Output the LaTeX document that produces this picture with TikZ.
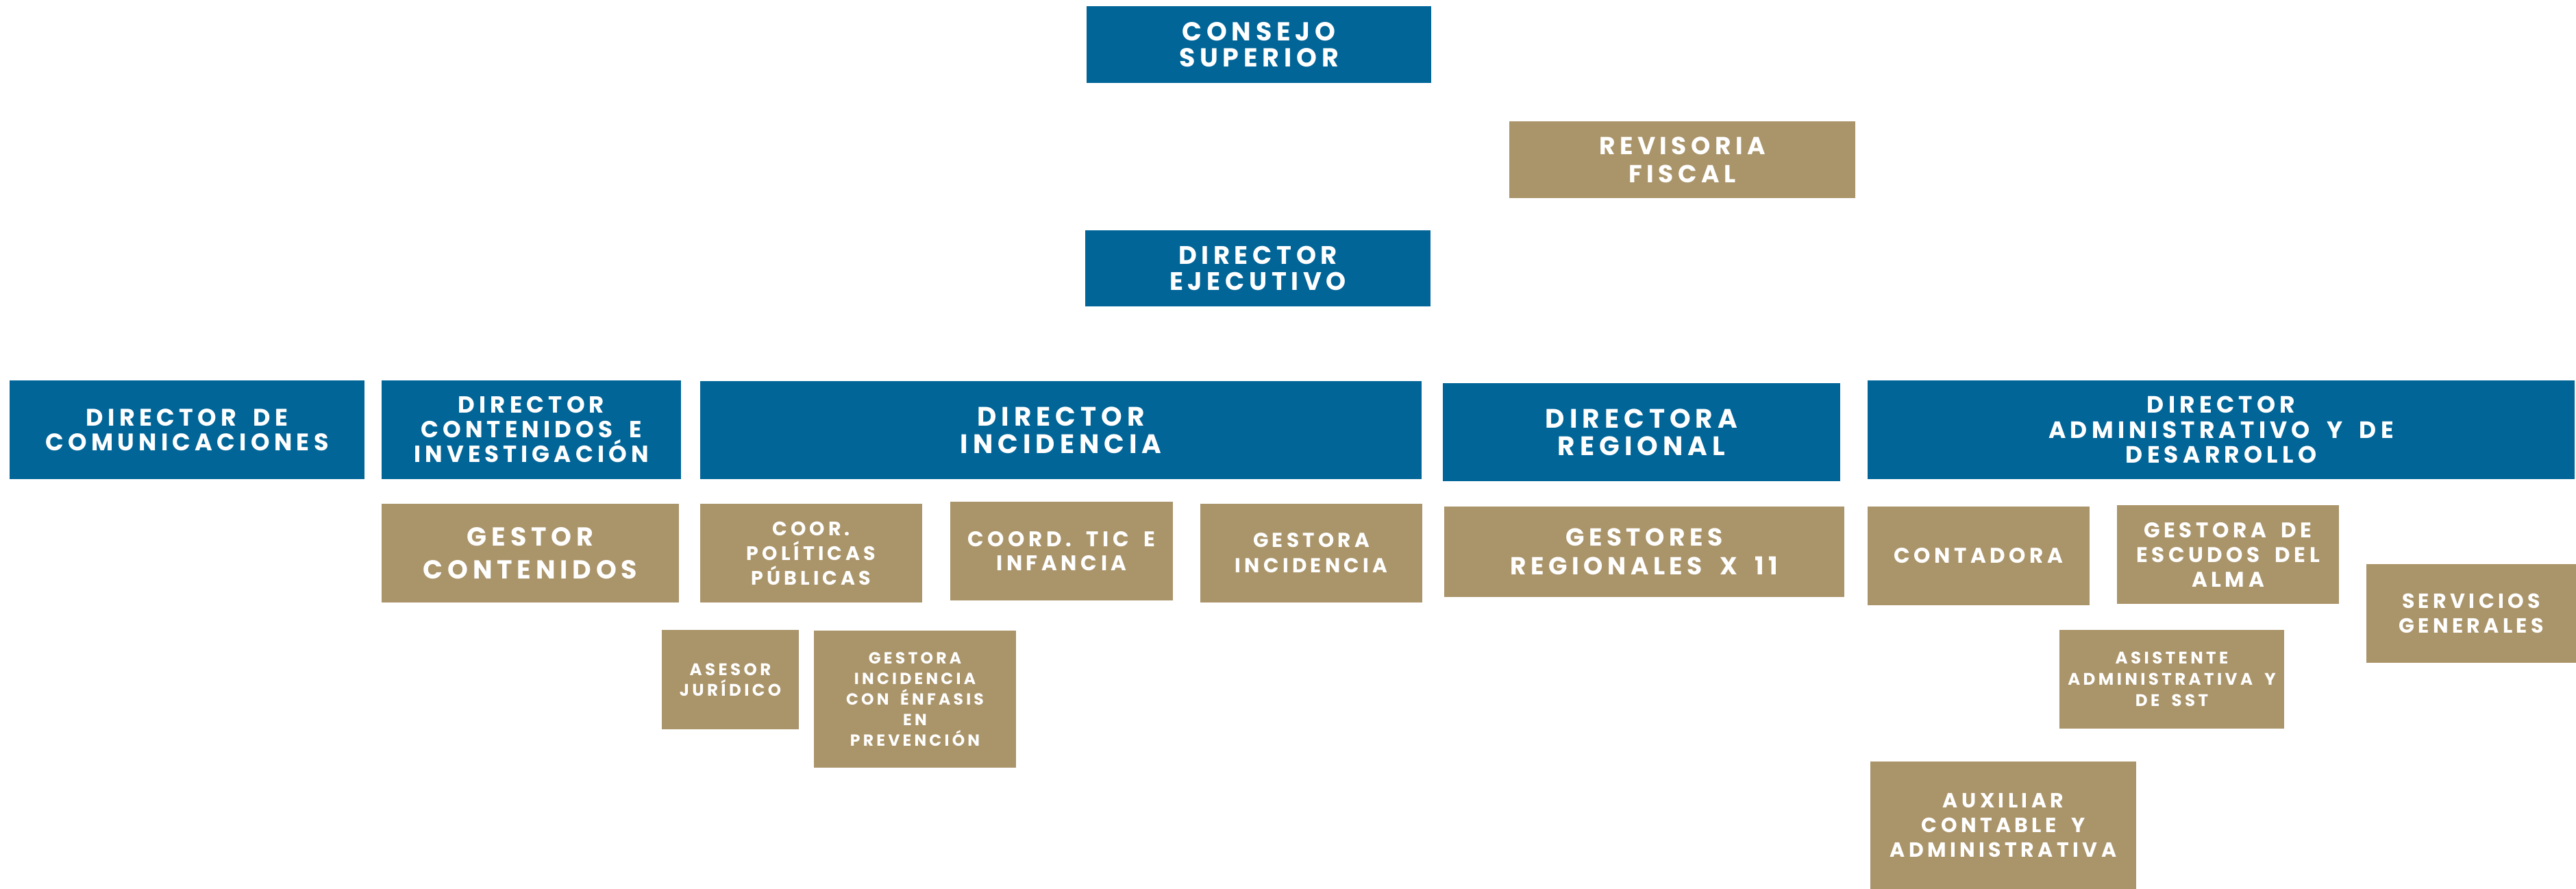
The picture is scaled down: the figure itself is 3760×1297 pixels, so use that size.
\documentclass[tikz,border=0pt]{standalone}
\usepackage{fontspec}
\setmainfont[LetterSpace=18,WordSpace=1.8]{Poppins}
\definecolor{orgblue}{RGB}{1,101,152}
\definecolor{orggold}{RGB}{170,148,106}
\newcommand{\fsz}[2]{\fontsize{#1}{#2}\selectfont\bfseries}
\tikzset{
  box/.style={inner sep=0pt, outer sep=0pt, align=center, text=white, anchor=center},
  bluebox/.style={box, fill=orgblue},
  goldbox/.style={box, fill=orggold},
}
\begin{document}
\begin{tikzpicture}[x=1pt,y=-1pt]
\useasboundingbox (0,0) rectangle (3760,1297);
\node[bluebox, minimum width=503pt, minimum height=112pt, font=\fsz{38}{38}] (consejo) at (1837.5,65) {CONSEJO\\SUPERIOR};
\node[goldbox, minimum width=505pt, minimum height=112pt, font=\fsz{36}{41}] (revisoria) at (2455.5,233) {REVISORIA\\FISCAL};
\node[bluebox, minimum width=504pt, minimum height=111pt, font=\fsz{37}{38}] (ejecutivo) at (1836,391.5) {DIRECTOR\\EJECUTIVO};
\node[bluebox, minimum width=518pt, minimum height=144pt, font=\fsz{35}{36}] (comunic) at (273,627) {DIRECTOR DE\\COMUNICACIONES};
\node[bluebox, minimum width=437pt, minimum height=144pt, font=\fsz{34}{36}] (dircont) at (775.5,627) {DIRECTOR\\CONTENIDOS E\\INVESTIGACIÓN};
\node[goldbox, minimum width=434pt, minimum height=144pt, font=\fsz{38}{48}] (gestcont) at (774,807) {GESTOR\\CONTENIDOS};
\node[bluebox, minimum width=1053pt, minimum height=143pt, font=\fsz{39}{40}] (dirinc) at (1548.5,627.5) {DIRECTOR\\INCIDENCIA};
\node[goldbox, minimum width=324pt, minimum height=144pt, font=\fsz{28.5}{36}] (coorpol) at (1184,807) {COOR.\\POLÍTICAS\\PÚBLICAS};
\node[goldbox, minimum width=325pt, minimum height=144pt, font=\fsz{31}{35.5}] (tic) at (1549.5,804) {COORD. TIC E\\INFANCIA};
\node[goldbox, minimum width=324pt, minimum height=144pt, font=\fsz{29.5}{37}] (gestinc) at (1914,807) {GESTORA\\INCIDENCIA};
\node[goldbox, minimum width=200pt, minimum height=145pt, font=\fsz{24.5}{30}] (asesor) at (1066,991.5) {ASESOR\\JURÍDICO};
\node[goldbox, minimum width=295pt, minimum height=200pt, font=\fsz{23.5}{30}] (enfasis) at (1335.5,1020) {GESTORA\\INCIDENCIA\\CON ÉNFASIS\\EN\\PREVENCIÓN};
\node[bluebox, minimum width=580pt, minimum height=143pt, font=\fsz{39}{40}] (dirreg) at (2396,630.5) {DIRECTORA\\REGIONAL};
\node[bluebox, minimum width=1032pt, minimum height=144pt, font=\fsz{34.5}{36.5}] (diradm) at (3242,627) {DIRECTOR\\ADMINISTRATIVO Y DE\\DESARROLLO};
\node[goldbox, minimum width=584pt, minimum height=132pt, font=\fsz{36}{42}] (gestreg) at (2400,805) {GESTORES\\REGIONALES X 11};
\node[goldbox, minimum width=324pt, minimum height=144pt, font=\fsz{31}{36}] (contadora) at (2888,811) {CONTADORA};
\node[goldbox, minimum width=324pt, minimum height=144pt, font=\fsz{31}{36}] (escudos) at (3252,809) {GESTORA DE\\ESCUDOS DEL\\ALMA};
\node[goldbox, minimum width=306pt, minimum height=144pt, font=\fsz{30}{36}] (servicios) at (3607,895) {SERVICIOS\\GENERALES};
\node[goldbox, minimum width=328pt, minimum height=144pt, font=\fsz{24.5}{31}] (asistente) at (3170,991) {ASISTENTE\\ADMINISTRATIVA Y\\DE SST};
\node[goldbox, minimum width=388pt, minimum height=186pt, font=\fsz{30}{36}] (auxiliar) at (2924,1204) {AUXILIAR\\CONTABLE Y\\ADMINISTRATIVA};
\end{tikzpicture}
\end{document}
